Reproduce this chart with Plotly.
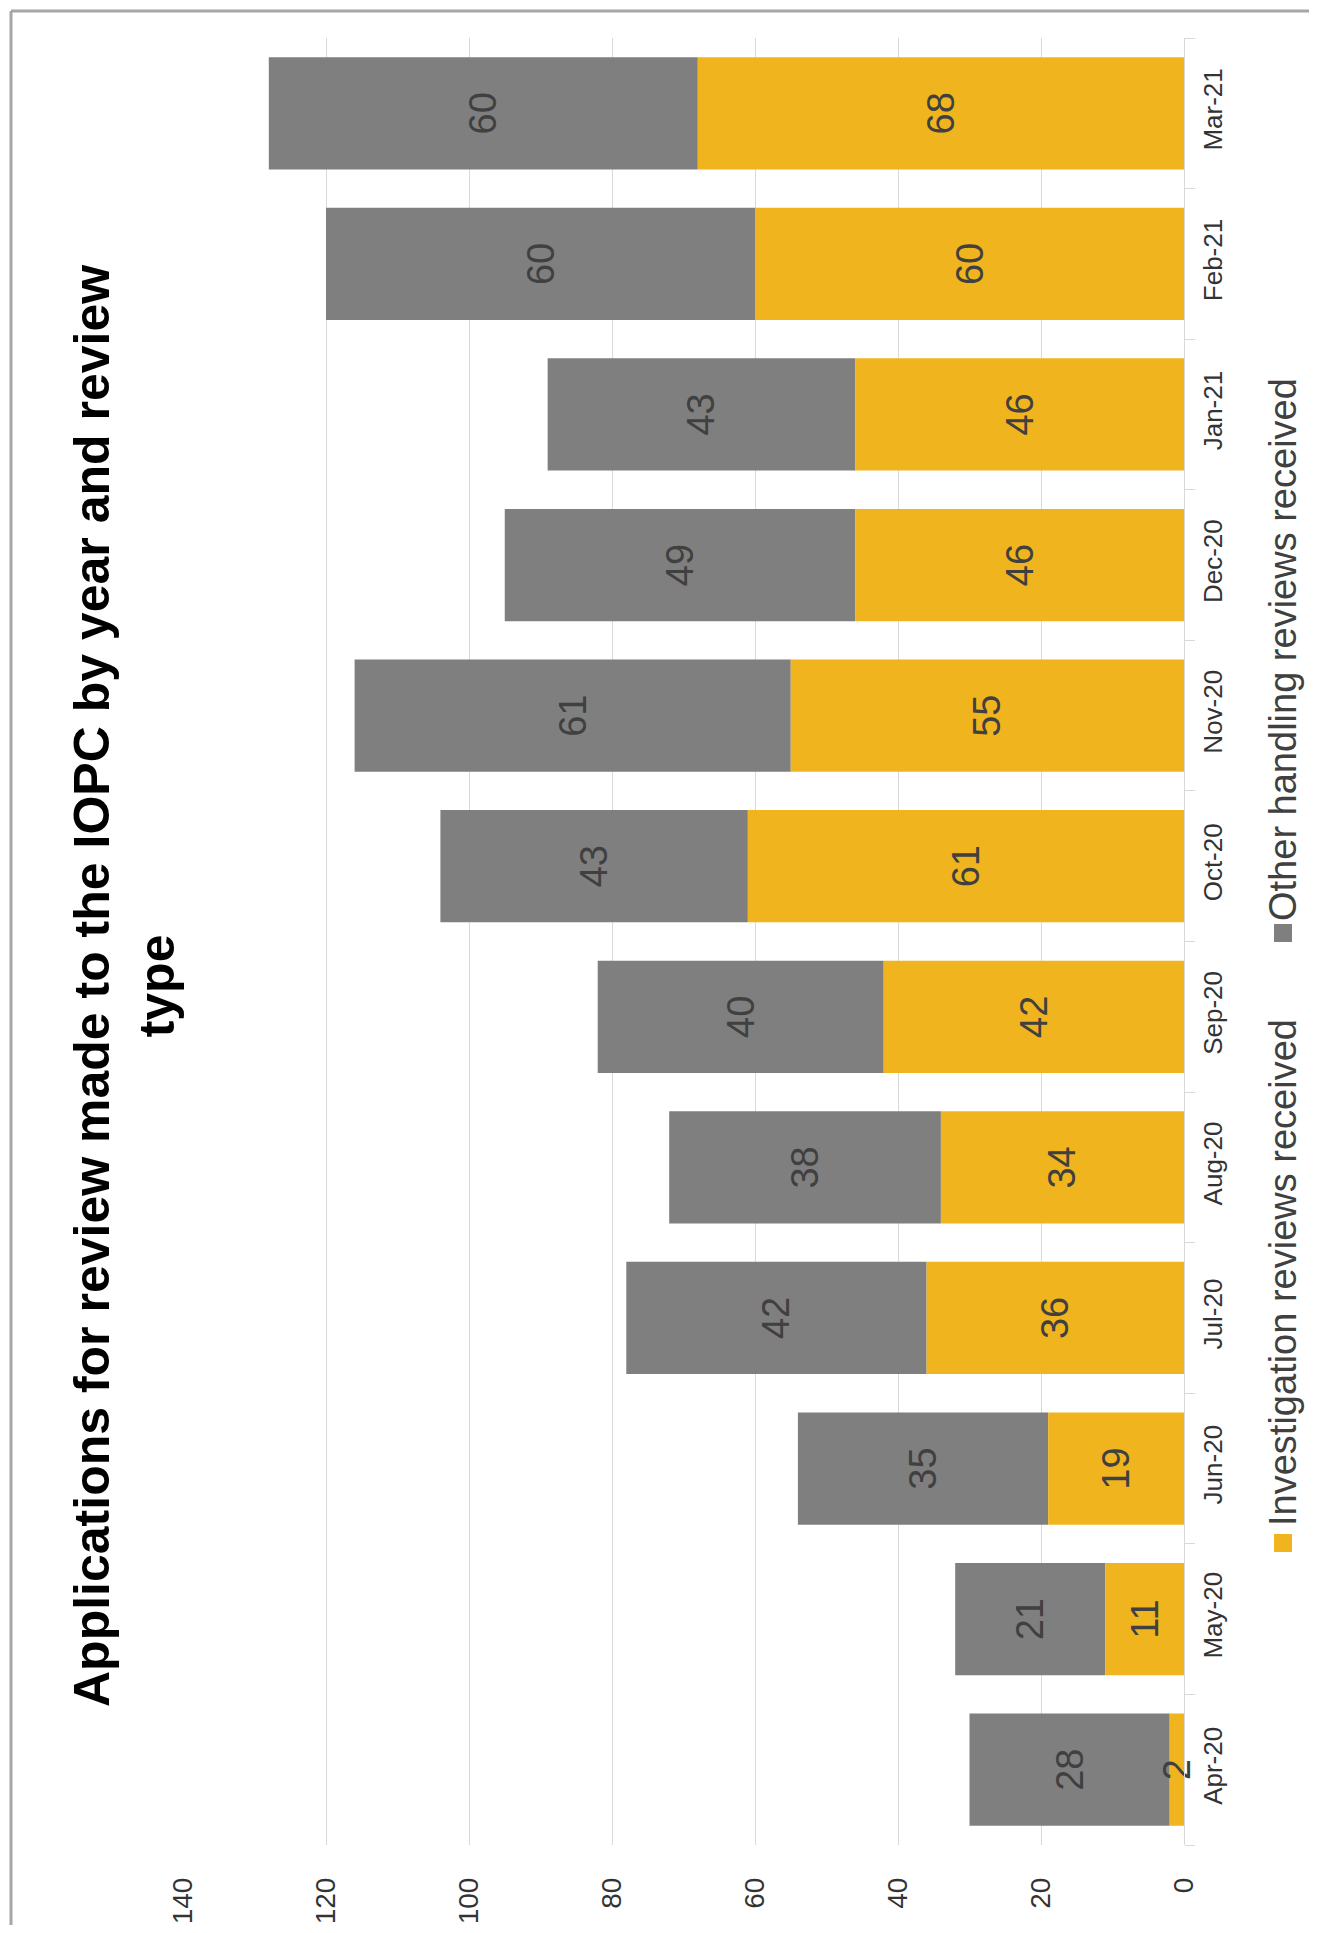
import plotly.graph_objects as go

categories = ["Apr-20", "May-20", "Jun-20", "Jul-20", "Aug-20", "Sep-20",
              "Oct-20", "Nov-20", "Dec-20", "Jan-21", "Feb-21", "Mar-21"]
investigation = [2, 11, 19, 36, 34, 42, 61, 55, 46, 46, 60, 68]
other = [28, 21, 35, 42, 38, 40, 43, 61, 49, 43, 60, 60]
value_ticks = [0, 20, 40, 60, 80, 100, 120, 140]

series_names = ["Investigation reviews received", "Other handling reviews received"]
GOLD = "#F0B41E"
GREY = "#7F7F7F"
FONT = "Liberation Sans, Arial, sans-serif"
TXT = "#404040"

# page body has an 8px margin; work in screen pixels and convert
OFF = 8
W, H = 1317 - 2 * OFF, 1933 - 2 * OFF
PLOT_L, PLOT_R, PLOT_T, PLOT_B = 183, 1184, 38, 1845  # screen px
L = PLOT_L - OFF
T = PLOT_T - OFF
R = W - (PLOT_R - OFF)
B = H - (PLOT_B - OFF)
PW, PH = W - L - R, H - T - B


def px_x(sx):
    return (sx - OFF - L) / PW


def px_y(sy):
    return (H - B - (sy - OFF)) / PH


fig = go.Figure()
# grey segment drawn first (sitting on top of gold), gold drawn last so its labels stay visible
fig.add_trace(go.Bar(
    name=series_names[1], y=categories, x=other, base=investigation, orientation="h",
    marker=dict(color=GREY, line=dict(width=0)),
    text=[str(v) for v in other], textposition="inside",
    insidetextanchor="middle", textangle=-90, constraintext="none",
    textfont=dict(family=FONT, size=38, color=TXT),
    showlegend=False, cliponaxis=False,
))
fig.add_trace(go.Bar(
    name=series_names[0], y=categories, x=investigation, orientation="h",
    marker=dict(color=GOLD, line=dict(width=0)),
    text=[str(v) for v in investigation], textposition="inside",
    insidetextanchor="middle", textangle=-90, constraintext="none",
    textfont=dict(family=FONT, size=38, color=TXT),
    showlegend=False, cliponaxis=False,
))

fig.update_layout(
    width=W, height=H,
    margin=dict(l=L, r=R, t=T, b=B, autoexpand=False),
    barmode="overlay", bargap=0.255,
    paper_bgcolor="white", plot_bgcolor="white",
    font=dict(family=FONT, color=TXT),
    xaxis=dict(range=[140, 0], tickvals=value_ticks, tickangle=-90,
               showgrid=True, gridcolor="#D9D9D9", gridwidth=1,
               zeroline=False, showline=False, ticks="", automargin=False,
               tickfont=dict(family=FONT, size=28, color="#333333"),
               ticklabelstandoff=26),
    yaxis=dict(type="category", side="right", tickangle=-90, automargin=False,
               showgrid=False, showline=True, linecolor="#D9D9D9", linewidth=1,
               ticks="outside", tickson="boundaries", ticklen=10, tickcolor="#D9D9D9",
               tickfont=dict(family=FONT, size=26, color="#333333"),
               ticklabelstandoff=6),
)

# Title (rotated)
fig.add_annotation(
    text="<b>Applications for review made to the IOPC by year and review<br>type</b>",
    xref="paper", yref="paper", x=px_x(124), y=px_y(986),
    xanchor="center", yanchor="middle", textangle=-90, showarrow=False,
    font=dict(family=FONT, size=50, color="#000000"), align="center",
)

# Custom rotated legend
legend_items = [(series_names[0], GOLD, 1543, 1273), (series_names[1], GREY, 933, 650)]
for name, col, my, ty in legend_items:
    fig.add_shape(type="rect", xref="paper", yref="paper",
                  x0=px_x(1274), x1=px_x(1292), y0=px_y(my + 9), y1=px_y(my - 9),
                  fillcolor=col, line=dict(width=0))
    fig.add_annotation(text=name, xref="paper", yref="paper",
                       x=px_x(1283), y=px_y(ty), xanchor="center", yanchor="middle",
                       textangle=-90, showarrow=False,
                       font=dict(family=FONT, size=38, color=TXT))

# Outer frame (top and left edges visible)
fig.add_shape(type="line", xref="paper", yref="paper",
              x0=px_x(11), x1=px_x(1317), y0=px_y(11), y1=px_y(11),
              line=dict(color="#A6A6A6", width=3))
fig.add_shape(type="line", xref="paper", yref="paper",
              x0=px_x(11), x1=px_x(11), y0=px_y(11), y1=px_y(1933),
              line=dict(color="#A6A6A6", width=3))

fig.write_html("out.html")
